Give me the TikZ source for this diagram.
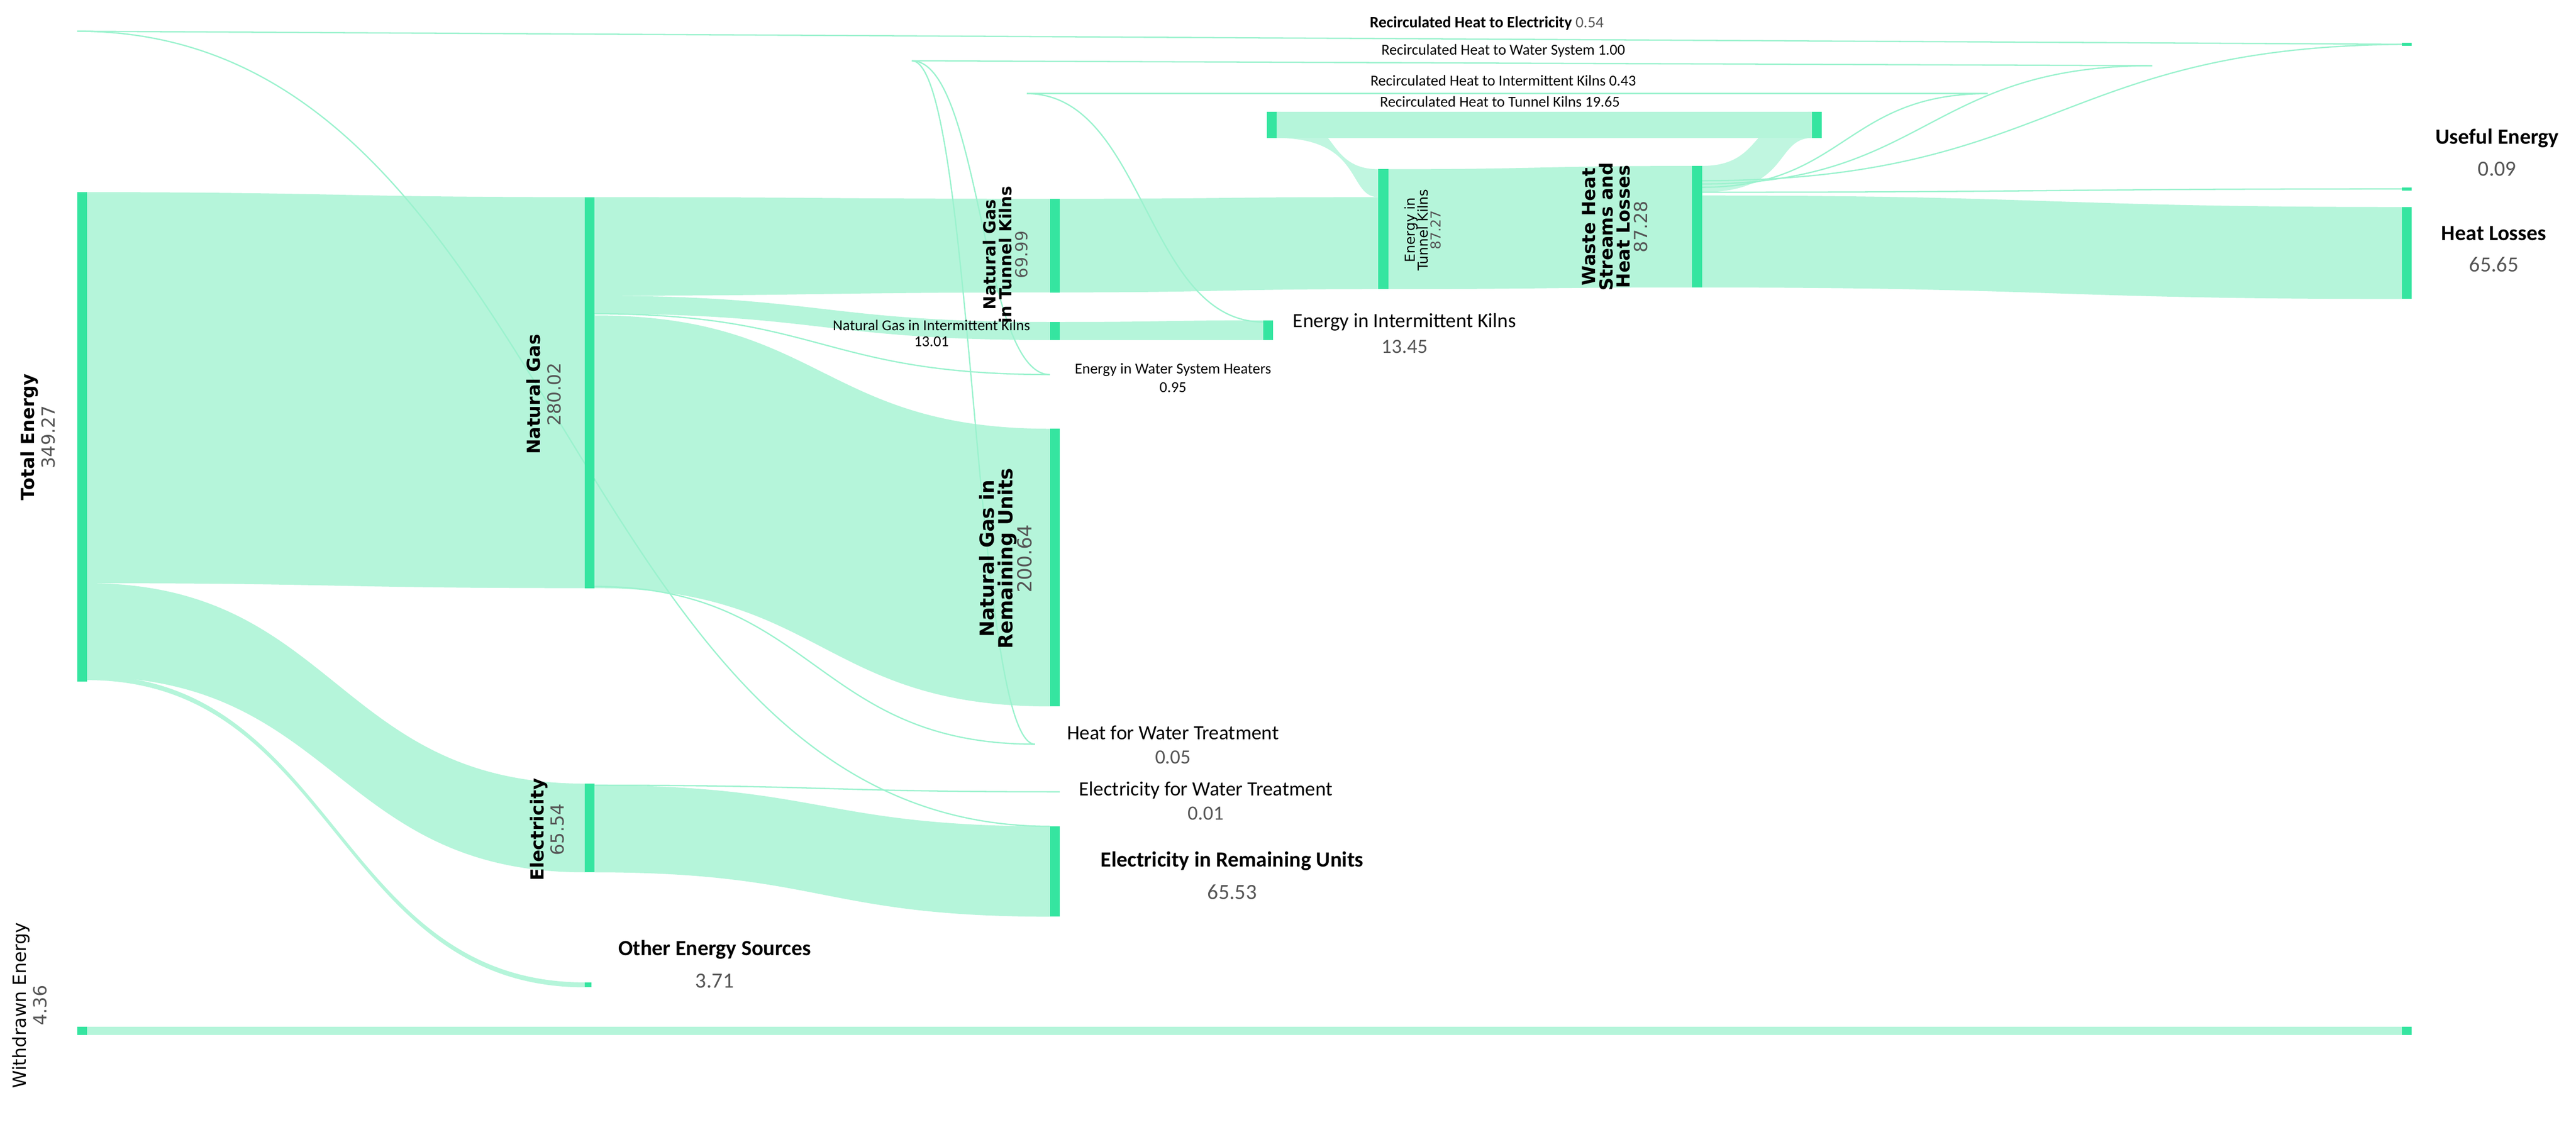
\documentclass[tikz,border=0pt]{standalone}
\usepackage{fontspec}
\setmainfont{Carlito}
\newfontfamily\dv{DejaVu Sans}
\definecolor{bandc}{HTML}{B5F5DA}
\definecolor{barc}{HTML}{35E5A0}
\definecolor{valc}{HTML}{555555}
\tikzset{
 band/.style={fill=bandc,draw=none},
 bar/.style={fill=barc,draw=none},
 tl/.style={draw=bandc!80!barc,line width=0.9pt},
 big/.style={font=\fontsize{15}{17}\selectfont\bfseries},
 bval/.style={font=\fontsize{15}{17}\selectfont,text=valc},
 mid/.style={font=\fontsize{14}{16}\selectfont},
 midv/.style={font=\fontsize{14}{16}\selectfont,text=valc},
 sm/.style={font=\fontsize{10.5}{12}\selectfont},
 rot/.style={rotate=90,align=center}
}
\newcommand\bnd[6]{\fill[band] (#1,#2) .. controls ({(#1+#4)/2},#2) and ({(#1+#4)/2},#5) .. (#4,#5) -- (#4,#6) .. controls ({(#1+#4)/2},#6) and ({(#1+#4)/2},#3) .. (#1,#3) -- cycle;}
\newcommand\lnk[4]{\draw[tl] (#1,#2) .. controls ({(#1+#3)/2},#2) and ({(#1+#3)/2},#4) .. (#3,#4);}
\begin{document}
\begin{tikzpicture}[x=0.04cm,y=-0.04cm]
\useasboundingbox (0,0) rectangle (1568,692);
% bands
\bnd{53}{117}{355}{356}{120}{358}
\bnd{53}{355}{412}{356}{477}{531}
\bnd{53}{411}{414}{356}{598}{601}
\fill[band] (53,625) rectangle (1462,630);
\bnd{362}{120}{180}{639}{121}{178}
\bnd{362}{180}{191}{639}{196}{207}
\bnd{362}{192}{358}{639}{261}{430}
\bnd{362}{478}{531}{639}{503}{558}
\bnd{645}{121}{178}{839}{120}{176}
\bnd{645}{196}{207}{769}{195}{207}
\bnd{845}{103}{176}{1030}{101}{175}
\bnd{1036}{119}{175}{1462}{126}{182}
% tunnel kiln recirculation
\fill[band,fill opacity=0.85] (1036,101) .. controls (1075,101) and (1065,68) .. (1103,68) -- (1103,84) .. controls (1080,84) and (1090,117) .. (1036,117) -- cycle;
\fill[band] (777,68) rectangle (1103,84);
\fill[band,fill opacity=0.85] (777,68) .. controls (815,68) and (805,103) .. (839,103) -- (839,120) .. controls (820,120) and (830,84) .. (777,84) -- cycle;
% thin links
\lnk{1036}{117}{1462}{115}
\lnk{1036}{110}{1468}{27}
\draw[tl] (1468,27) -- (47,19);
\lnk{47}{19}{639}{503}
\lnk{1036}{112}{1310}{40}
\draw[tl] (1310,40) -- (555,37);
\lnk{555}{37}{639}{228}
\lnk{555}{37}{630}{453}
\lnk{1036}{114}{1210}{57}
\draw[tl] (1210,57) -- (625,57);
\lnk{625}{57}{769}{196}
\lnk{362}{191}{639}{228}
\lnk{362}{478}{645}{482}
\lnk{362}{357}{630}{453}
% bars
\fill[bar] (47,117) rectangle (53,415);
\fill[bar] (356,120) rectangle (362,358);
\fill[bar] (356,477) rectangle (362,531);
\fill[bar] (356,598) rectangle (360,601);
\fill[bar] (47,625) rectangle (53,630);
\fill[bar] (1462,625) rectangle (1468,630);
\fill[bar] (639,121) rectangle (645,178);
\fill[bar] (639,196) rectangle (645,207);
\fill[bar] (639,261) rectangle (645,430);
\fill[bar] (639,503) rectangle (645,558);
\fill[bar] (769,195) rectangle (775,207);
\fill[bar] (839,103) rectangle (845,176);
\fill[bar] (1030,101) rectangle (1036,175);
\fill[bar] (771,68) rectangle (777,84);
\fill[bar] (1103,68) rectangle (1109,84);
\fill[bar] (1462,114) rectangle (1468,116);
\fill[bar] (1462,126) rectangle (1468,182);
\fill[bar] (1462,26) rectangle (1468,28);
% labels
\node[rot,font=\dv\fontsize{12.5}{15}\selectfont] (te) at (23,266) {\textbf{Total Energy}\\[-1pt]\textcolor{valc}{349.27}};
\node[rot,font=\dv\fontsize{12.5}{15}\selectfont] (ng) at (331,240) {\textbf{Natural Gas}\\[-1pt]\textcolor{valc}{280.02}};
\node[rot,font=\dv\fontsize{12.5}{15}\selectfont] (el) at (333,505) {\textbf{Electricity}\\[-1pt]\textcolor{valc}{65.54}};
\node[rot,font=\dv\fontsize{12.5}{15}\selectfont] (we) at (18,612) {Withdrawn Energy\\[-1pt]\textcolor{valc}{4.36}};
\node[rot,font=\dv\fontsize{11.5}{13}\selectfont] (ngt) at (612,155) {\textbf{Natural Gas}\\[-2pt]\textbf{in Tunnel Kilns}\\[-2pt]\textcolor{valc}{69.99}};
\node[rot,font=\dv\fontsize{13.5}{15}\selectfont] (ngr) at (612,340) {\textbf{Natural Gas in}\\[-2pt]\textbf{Remaining Units}\\[-2pt]\textcolor{valc}{200.64}};
\node[rot,font=\dv\fontsize{9.5}{11}\selectfont] (etk) at (866,140) {Energy in\\[-2pt]Tunnel Kilns\\[-2pt]\textcolor{valc}{87.27}};
\node[rot,font=\dv\fontsize{12.5}{14}\selectfont\bfseries] (wh) at (983,138) {Waste Heat\\[-2pt]Streams and\\[-2pt]Heat Losses\\[-2pt]\textcolor{valc}{\mdseries 87.28}};
\node[big] (ue) at (1520,84) {Useful Energy};
\node[bval] at (1520,103) {0.09};
\node[big] (hl) at (1518,142) {Heat Losses};
\node[bval] at (1518,161) {65.65};
\node[big] (oes) at (435,578) {Other Energy Sources};
\node[bval] at (435,597) {3.71};
\node[big] (eru) at (750,524) {Electricity in Remaining Units};
\node[bval] at (750,543) {65.53};
\node[mid] (eik) at (855,196) {Energy in Intermittent Kilns};
\node[midv] at (855,211) {13.45};
\node[mid] (hwt) at (714,446) {Heat for Water Treatment};
\node[midv] at (714,461) {0.05};
\node[mid] (ewt) at (734,481) {Electricity for Water Treatment};
\node[midv] at (734,495) {0.01};
\node[sm] (ngi) at (567,198) {Natural Gas in Intermittent Kilns};
\node[sm] at (567,208) {13.01};
\node[sm] (ews) at (714,225) {Energy in Water System Heaters};
\node[sm] at (714,236) {0.95};
\node[font=\fontsize{11}{13}\selectfont] (r1) at (905,14) {\textbf{Recirculated Heat to Electricity} \textcolor{valc}{0.54}};
\node[sm] (r2) at (915,31) {Recirculated Heat to Water System 1.00};
\node[sm] (r3) at (915,49) {Recirculated Heat to Intermittent Kilns 0.43};
\node[sm] (r4) at (913,62) {Recirculated Heat to Tunnel Kilns 19.65};
\end{tikzpicture}
\end{document}
